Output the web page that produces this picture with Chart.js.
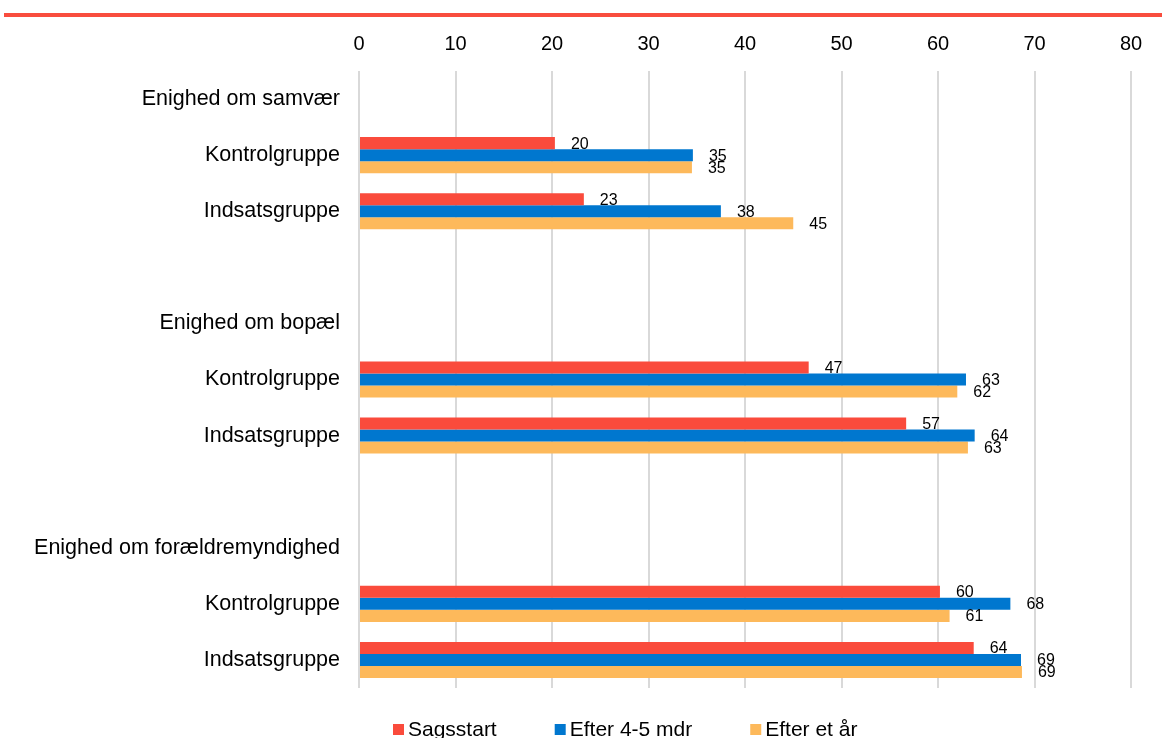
<!DOCTYPE html>
<html>
<head>
<meta charset="utf-8">
<script src="https://cdn.jsdelivr.net/npm/chart.js@4"></script>
<style>
  body { margin: 0; background: #fff; overflow: hidden; }
  #topline { position: absolute; left: 4px; top: 13px; width: 1158px; height: 4px; background: #f94d3e; }
  #wrap { position: absolute; left: 0; top: 0; width: 1162px; height: 752px; }
</style>
</head>
<body>
<div id="topline"></div>
<div id="wrap"><canvas id="chart"></canvas></div>
<script>
// categories (header rows and spacer rows have no bars)
const categories = [
  'Enighed om samvær', 'Kontrolgruppe', 'Indsatsgruppe', '',
  'Enighed om bopæl', 'Kontrolgruppe', 'Indsatsgruppe', '',
  'Enighed om forældremyndighed', 'Kontrolgruppe', 'Indsatsgruppe'
];
const seriesNames = ['Sagsstart', 'Efter 4-5 mdr', 'Efter et år'];
const sagsstart = [null, 20.3, 23.3, null, null, 46.6, 56.7, null, null, 60.2, 63.7];
const efter45   = [null, 34.6, 37.5, null, null, 62.9, 63.8, null, null, 67.5, 68.6];
const efterAar  = [null, 34.5, 45.0, null, null, 62.0, 63.1, null, null, 61.2, 68.7];
const xTicks = [0, 10, 20, 30, 40, 50, 60, 70, 80];

const colors = ['#fa4b3c', '#0077cf', '#fdb95b'];
const font = 'Liberation Sans, Arial, sans-serif';

// draws the rounded value to the right of each bar
const valueLabels = {
  id: 'valueLabels',
  afterDatasetsDraw(chart) {
    const ctx = chart.ctx;
    ctx.save();
    ctx.font = '16px ' + font;
    ctx.fillStyle = '#000';
    ctx.textBaseline = 'middle';
    ctx.textAlign = 'left';
    chart.data.datasets.forEach((ds, i) => {
      chart.getDatasetMeta(i).data.forEach((bar, j) => {
        const v = ds.data[j];
        if (v == null) return;
        ctx.fillText(String(Math.round(v)), bar.x + 16, bar.y + 1);
      });
    });
    ctx.restore();
  }
};

// legend along the bottom, partly cut by the page edge like the original
const bottomLegend = {
  id: 'bottomLegend',
  afterDraw(chart) {
    const ctx = chart.ctx;
    ctx.save();
    ctx.font = '21px ' + font;
    ctx.textBaseline = 'middle';
    let x = 393;
    const y = 729;
    chart.data.datasets.forEach(ds => {
      ctx.fillStyle = ds.backgroundColor;
      ctx.fillRect(x, y - 5, 11, 11);
      ctx.fillStyle = '#000';
      ctx.fillText(ds.label, x + 15, y + 1);
      x += 15 + ctx.measureText(ds.label).width + 58;
    });
    ctx.restore();
  }
};

const series = [sagsstart, efter45, efterAar];

new Chart(document.getElementById('chart'), {
  type: 'bar',
  data: {
    labels: categories,
    datasets: series.map((d, i) => ({
      label: seriesNames[i],
      data: d,
      backgroundColor: colors[i],
      categoryPercentage: 0.643,
      barPercentage: 1
    }))
  },
  plugins: [valueLabels, bottomLegend],
  options: {
    indexAxis: 'y',
    responsive: true,
    maintainAspectRatio: false,
    animation: false,
    layout: { padding: { top: 24, right: 31, left: 0, bottom: 64 } },
    scales: {
      x: {
        position: 'top',
        min: 0,
        max: 80,
        afterBuildTicks(scale) { scale.ticks = xTicks.map(v => ({ value: v })); },
        afterFit(scale) { scale.height = 47; },
        grid: { color: '#d9d9d9', lineWidth: 2, drawTicks: false },
        border: { display: false },
        ticks: { font: { size: 20, family: font }, color: '#000', padding: 15 }
      },
      y: {
        afterFit(scale) { scale.width = 359; },
        grid: { display: false, drawTicks: false },
        border: { display: false },
        ticks: { font: { size: 21.5, family: font }, color: '#000', padding: 19, autoSkip: false }
      }
    },
    plugins: {
      legend: { display: false },
      tooltip: { enabled: false }
    }
  }
});
</script>
</body>
</html>
